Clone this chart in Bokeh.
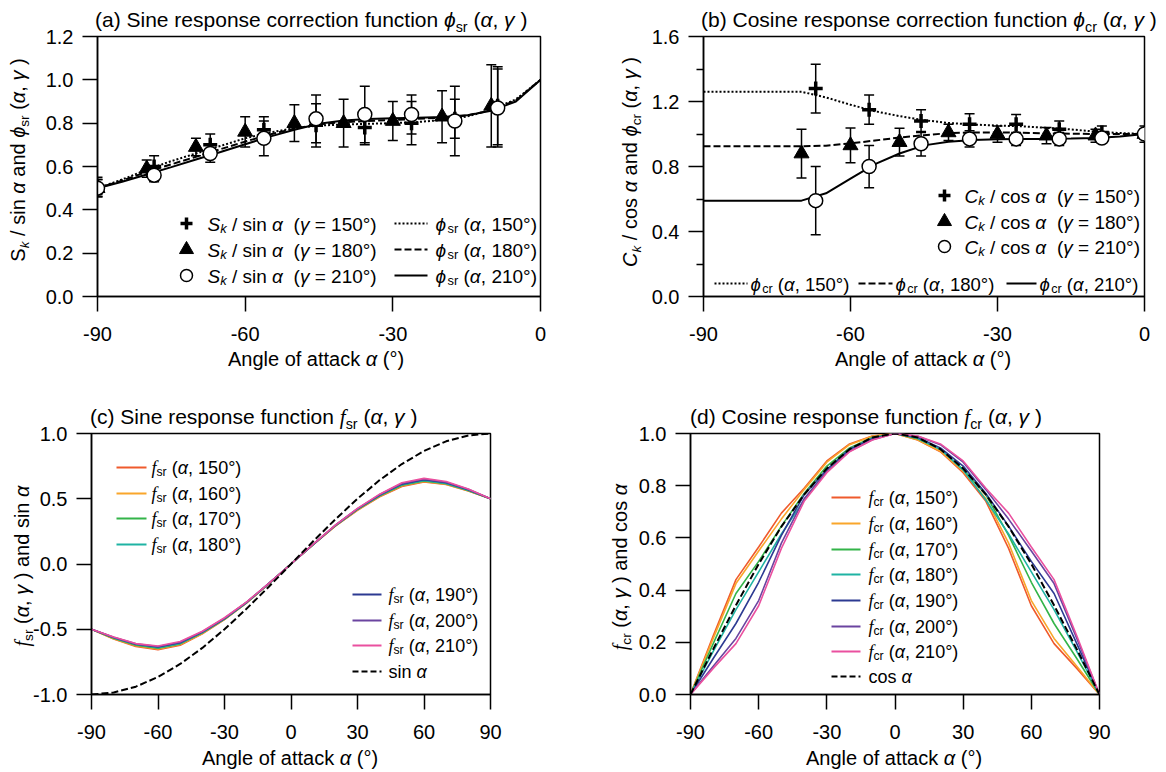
import numpy as np
from bokeh.plotting import figure
from bokeh.models import Range1d, FixedTicker, NumeralTickFormatter, Label, Div
from bokeh.layouts import column, row
from bokeh.embed import file_html
from bokeh.resources import INLINE

# ---------------- data ----------------
# (a) sine response correction
ALPHA_A_SYM = [-90, -78.5, -67.1, -56.2, -45.6, -35.7, -26.2, -17.4, -8.7]
ALPHA_A_180 = [-90, -80, -70, -60, -50, -40, -30, -20, -10]
SK150 = [0.51, 0.60, 0.70, 0.77, 0.79, 0.78, 0.80, 0.82, 0.88]
SK150_ERR = [0.04, 0.05, 0.05, 0.06, 0.10, 0.08, 0.10, 0.09, 0.18]
SK180 = [0.50, 0.59, 0.69, 0.76, 0.80, 0.80, 0.81, 0.83, 0.88]
SK180_ERR = [0.04, 0.04, 0.04, 0.07, 0.085, 0.11, 0.09, 0.12, 0.19]
SK210 = [0.50, 0.56, 0.66, 0.73, 0.82, 0.84, 0.84, 0.81, 0.87]
SK210_ERR = [0.04, 0.03, 0.04, 0.08, 0.11, 0.13, 0.09, 0.16, 0.18]
PHI_SR_ALPHA = [-90, -85, -80, -75, -70, -65, -60, -55, -50, -45, -40, -35, -30, -25, -20, -15, -10, -5, 0]
PHI_SR_150 = [0.50, 0.54, 0.585, 0.625, 0.66, 0.695, 0.73, 0.757, 0.777, 0.789, 0.794, 0.797, 0.80, 0.805, 0.815, 0.83, 0.862, 0.91, 1.00]
PHI_SR_180 = [0.50, 0.535, 0.575, 0.61, 0.645, 0.68, 0.715, 0.748, 0.775, 0.795, 0.805, 0.81, 0.815, 0.82, 0.825, 0.835, 0.86, 0.905, 1.00]
PHI_SR_210 = [0.50, 0.53, 0.563, 0.597, 0.632, 0.667, 0.703, 0.738, 0.77, 0.797, 0.812, 0.819, 0.823, 0.825, 0.828, 0.836, 0.857, 0.90, 1.00]

# (b) cosine response correction
ALPHA_B_SYM = [-67.1, -56.2, -45.6, -35.7, -26.2, -17.4, -8.7, 0]
ALPHA_B_180 = [-70, -60, -50, -40, -30, -20, -10, 0]
CK150 = [1.28, 1.15, 1.08, 1.06, 1.06, 1.03, 1.01, 1.00]
CK150_ERR = [0.15, 0.09, 0.07, 0.065, 0.06, 0.05, 0.04, 0.03]
CK180 = [0.88, 0.93, 0.95, 1.01, 1.00, 0.99, 0.99, 1.00]
CK180_ERR = [0.15, 0.107, 0.085, 0.05, 0.05, 0.05, 0.04, 0.03]
CK210 = [0.59, 0.80, 0.94, 0.97, 0.97, 0.97, 0.975, 1.00]
CK210_ERR = [0.21, 0.13, 0.075, 0.05, 0.04, 0.04, 0.03, 0.05]
PHI_CR_ALPHA = [-90, -70, -65, -60, -55, -50, -45, -40, -35, -30, -25, -20, -15, -10, -5, 0]
PHI_CR_150 = [1.26, 1.26, 1.225, 1.18, 1.14, 1.11, 1.085, 1.068, 1.058, 1.052, 1.047, 1.038, 1.028, 1.015, 1.006, 1.00]
PHI_CR_180 = [0.925, 0.925, 0.928, 0.942, 0.96, 0.978, 0.993, 1.005, 1.01, 1.01, 1.008, 1.004, 1.002, 1.00, 1.00, 1.00]
PHI_CR_210 = [0.59, 0.59, 0.635, 0.725, 0.815, 0.88, 0.93, 0.952, 0.963, 0.968, 0.97, 0.97, 0.972, 0.975, 0.985, 1.00]

# (c) sine response function
ALPHA_CD = [-90, -80, -70, -60, -50, -40, -30, -20, -10, 0, 10, 20, 30, 40, 50, 60, 70, 80, 90]
GAMMAS = [150, 160, 170, 180, 190, 200, 210]
FSR = {
    150: [-0.50, -0.575, -0.632, -0.656, -0.622, -0.535, -0.426, -0.298, -0.152, 0, 0.148, 0.29, 0.412, 0.515, 0.594, 0.628, 0.61, 0.56, 0.50],
    160: [-0.50, -0.572, -0.627, -0.651, -0.617, -0.532, -0.424, -0.297, -0.151, 0, 0.149, 0.292, 0.415, 0.518, 0.599, 0.632, 0.612, 0.562, 0.50],
    170: [-0.50, -0.569, -0.622, -0.646, -0.612, -0.528, -0.422, -0.296, -0.151, 0, 0.149, 0.293, 0.418, 0.522, 0.604, 0.636, 0.615, 0.564, 0.50],
    180: [-0.50, -0.566, -0.617, -0.641, -0.608, -0.525, -0.42, -0.295, -0.15, 0, 0.15, 0.295, 0.42, 0.525, 0.608, 0.641, 0.617, 0.566, 0.50],
    190: [-0.50, -0.564, -0.615, -0.636, -0.604, -0.522, -0.418, -0.293, -0.149, 0, 0.151, 0.296, 0.422, 0.528, 0.612, 0.646, 0.622, 0.569, 0.50],
    200: [-0.50, -0.562, -0.612, -0.632, -0.599, -0.518, -0.415, -0.292, -0.149, 0, 0.151, 0.297, 0.424, 0.532, 0.617, 0.651, 0.627, 0.572, 0.50],
    210: [-0.50, -0.56, -0.61, -0.628, -0.594, -0.515, -0.412, -0.29, -0.148, 0, 0.152, 0.298, 0.426, 0.535, 0.622, 0.656, 0.632, 0.575, 0.50],
}
SIN_VALUES = [-1.0, -0.985, -0.940, -0.866, -0.766, -0.643, -0.5, -0.342, -0.174, 0, 0.174, 0.342, 0.5, 0.643, 0.766, 0.866, 0.940, 0.985, 1.0]

# (d) cosine response function
FCR = {
    150: [0, 0.225, 0.44, 0.565, 0.695, 0.79, 0.895, 0.96, 0.99, 1.0, 0.975, 0.93, 0.85, 0.74, 0.56, 0.34, 0.195, 0.10, 0],
    160: [0, 0.215, 0.425, 0.55, 0.672, 0.785, 0.89, 0.957, 0.989, 1.0, 0.976, 0.932, 0.855, 0.75, 0.58, 0.36, 0.215, 0.108, 0],
    170: [0, 0.195, 0.387, 0.51, 0.645, 0.77, 0.875, 0.945, 0.985, 1.0, 0.98, 0.94, 0.862, 0.765, 0.61, 0.43, 0.272, 0.138, 0],
    180: [0, 0.165, 0.325, 0.47, 0.615, 0.745, 0.86, 0.94, 0.982, 1.0, 0.982, 0.94, 0.86, 0.745, 0.615, 0.47, 0.325, 0.165, 0],
    190: [0, 0.138, 0.272, 0.43, 0.61, 0.765, 0.862, 0.94, 0.98, 1.0, 0.985, 0.945, 0.875, 0.77, 0.645, 0.51, 0.387, 0.195, 0],
    200: [0, 0.108, 0.215, 0.36, 0.58, 0.75, 0.855, 0.932, 0.976, 1.0, 0.989, 0.957, 0.89, 0.785, 0.672, 0.55, 0.425, 0.215, 0],
    210: [0, 0.10, 0.195, 0.34, 0.56, 0.74, 0.85, 0.93, 0.975, 1.0, 0.99, 0.96, 0.895, 0.79, 0.695, 0.565, 0.44, 0.225, 0],
}
COS_VALUES = [0, 0.174, 0.342, 0.5, 0.643, 0.766, 0.866, 0.940, 0.985, 1.0, 0.985, 0.940, 0.866, 0.766, 0.643, 0.5, 0.342, 0.174, 0]

COLORS = {150: "#EF5A2C", 160: "#F9A62B", 170: "#33B449", 180: "#1FB3A3",
          190: "#2C3A92", 200: "#6B44A0", 210: "#EA509F"}

# ---------------- text helpers ----------------
FONT = "Liberation Sans"
SERIF = "Liberation Serif"
AW = {' ': .278, '(': .333, ')': .333, ',': .278, '-': .333, '.': .278, '/': .278, '=': .584,
      '°': .400, 'A': .667, 'C': .722, 'S': .667,
      'a': .556, 'b': .556, 'c': .5, 'd': .556, 'e': .556, 'f': .278, 'g': .556, 'h': .556,
      'i': .222, 'k': .5, 'l': .222, 'n': .556, 'o': .556, 'p': .556, 'r': .333, 's': .5,
      't': .278, 'u': .556, 'α': .578, 'γ': .5, 'ϕ': .63}


def tw(s, size):
    return sum(AW.get(c, 0.556) for c in s) * size


class Frame:
    def __init__(self, x0, x1, y0, y1, left, top, w, h):
        self.x0, self.x1, self.y0, self.y1 = x0, x1, y0, y1
        self.left, self.top, self.w, self.h = left, top, w, h

    def X(self, px):
        return self.x0 + (px - self.left) * (self.x1 - self.x0) / self.w

    def Y(self, py):
        return self.y1 - (py - self.top) * (self.y1 - self.y0) / self.h


def props(kind, size):
    sub = kind.startswith("s")
    fs = size * 0.68 if sub else size
    drop = size * 0.22 if sub else 0.0
    base = kind[1:] if sub else kind
    if base == "f":
        return SERIF, "italic", fs, drop
    if base == "i":
        return FONT, "italic", fs, drop
    return FONT, "normal", fs, drop


def rich(p, fr, sx, yc, segs, size):
    """Rich text (with subscripts) inside a plot frame, vertically centred on row yc."""
    sy = yc + 0.33 * size - 5
    pos = 0.0
    for text, kind in segs:
        font, style, fs, drop = props(kind, size)
        lead = tw(text[: len(text) - len(text.lstrip())], fs)
        t = text.strip()
        if t:
            px, py = sx + pos + lead, sy + drop
            p.add_layout(Label(x=fr.X(px), y=fr.Y(py), text=t, text_font=font,
                               text_font_style=style, text_font_size=f"{fs:.1f}px",
                               text_baseline="alphabetic", text_align="left",
                               text_color="black"))
        pos += tw(text, fs)


def html_rich(segs, size):
    out = []
    for text, kind in segs:
        font, style, fs, drop = props(kind, size)
        st = f"font-family:'{font}';font-style:{style};font-size:{fs:.1f}px;"
        if drop:
            st += f"vertical-align:-{drop:.1f}px;line-height:1;"
        out.append(f'<span style="{st}">{text}</span>')
    return "".join(out)


def hdiv(segs, size, width, height, pad_top, left=None, center=None, spacing=0.0):
    """Horizontal text block placed inside a fixed-size Div."""
    common = (f"white-space:pre;line-height:1;padding-top:{pad_top}px;color:black;"
              f"font-family:'{FONT}';font-size:{size}px;letter-spacing:{spacing}px;")
    if center is not None:
        inner = (f'<div style="width:400px;margin-left:{center - 200}px;text-align:center;{common}">'
                 f'{html_rich(segs, size)}</div>')
    else:
        inner = f'<div style="margin-left:{left}px;{common}">{html_rich(segs, size)}</div>'
    return Div(text=inner, width=width, height=height, margin=(0, 0, 0, 0),
               styles={"overflow": "visible"})


def vdiv(segs, size, width, height, cx, cy):
    """Rotated (bottom-to-top) text centred at (cx, cy) inside a fixed-size Div."""
    L = 360
    x0 = cx - size / 2
    y0 = cy + L / 2
    inner = (f'<div style="width:{L}px;height:{size}px;text-align:center;white-space:pre;'
             f'line-height:1;color:black;font-family:\'{FONT}\';font-size:{size}px;'
             f'transform-origin:0 0;transform:translate({x0}px,{y0}px) rotate(-90deg)">'
             f'{html_rich(segs, size)}</div>')
    return Div(text=inner, width=width, height=height, margin=(0, 0, 0, 0),
               styles={"overflow": "visible"})


def make_fig(fr, mbl, mbr, mbt, mbb, xticks, yticks, yminor, yfmt):
    p = figure(x_range=Range1d(fr.x0, fr.x1), y_range=Range1d(fr.y0, fr.y1),
               frame_width=fr.w, frame_height=fr.h,
               min_border_left=mbl, min_border_right=mbr,
               min_border_top=mbt, min_border_bottom=mbb,
               toolbar_location=None, output_backend="svg")
    p.grid.visible = False
    p.outline_line_color = "black"
    p.outline_line_width = 1.5
    p.background_fill_color = "white"
    p.border_fill_color = None
    p.xaxis.ticker = FixedTicker(ticks=xticks, minor_ticks=[])
    p.yaxis.ticker = FixedTicker(ticks=yticks, minor_ticks=yminor)
    p.xaxis.formatter = NumeralTickFormatter(format="0")
    p.yaxis.formatter = NumeralTickFormatter(format=yfmt)
    for ax in (p.xaxis, p.yaxis):
        ax.axis_line_width = 1.5
        ax.axis_line_color = "black"
        ax.major_tick_line_width = 1.5
        ax.major_tick_line_color = "black"
        ax.minor_tick_line_width = 1.5
        ax.minor_tick_line_color = "black"
        ax.major_tick_in = 0
        ax.minor_tick_in = 0
        ax.minor_tick_out = 7
        ax.major_label_text_font = FONT
        ax.major_label_text_font_size = "20px"
        ax.major_label_text_color = "black"
    p.xaxis.major_tick_out = 15
    p.yaxis.major_tick_out = 15
    p.xaxis.major_label_standoff = 15
    p.yaxis.major_label_standoff = 9
    return p


def errbars(p, fr, xs, vals, errs):
    xs = np.asarray(xs, float)
    v = np.asarray(vals, float)
    e = np.asarray(errs, float)
    lo, hi = v - e, v + e
    cw = 5 * (fr.x1 - fr.x0) / fr.w
    p.segment(xs, lo, xs, hi, line_color="black", line_width=1.5)
    p.segment(xs - cw, lo, xs + cw, lo, line_color="black", line_width=1.5)
    p.segment(xs - cw, hi, xs + cw, hi, line_color="black", line_width=1.5)


def markers(p, xs, ys, kind, size):
    if kind == "plus":
        p.scatter(xs, ys, marker="cross", size=size, line_color="black", line_width=3.5)
    elif kind == "tri":
        p.scatter(xs, ys, marker="triangle", size=size, fill_color="black", line_color="black", line_width=1)
    else:
        p.scatter(xs, ys, marker="circle", size=size, fill_color="white", line_color="black", line_width=1.5)


DOT, DASH, SOLID = "2 2", "7 3", "solid"
LEG = 19
AXL = 20
TIT = 21
TSP = 0.0
XLAB = [("Angle of attack ", "n"), ("α", "i"), (" (°)", "n")]

# ---------------- panel (a) ----------------
fa = Frame(-90, 0, 0, 1.2, 95, 36, 443, 260)
pa = make_fig(fa, 53, 82, 12, 53, [-90, -60, -30, 0], [0, 0.2, 0.4, 0.6, 0.8, 1.0, 1.2], [], "0.0")
pa.line(PHI_SR_ALPHA, PHI_SR_150, line_color="black", line_width=2, line_dash=DOT)
pa.line(PHI_SR_ALPHA, PHI_SR_180, line_color="black", line_width=2, line_dash=DASH)
pa.line(PHI_SR_ALPHA, PHI_SR_210, line_color="black", line_width=2)
errbars(pa, fa, ALPHA_A_SYM, SK150, SK150_ERR)
errbars(pa, fa, ALPHA_A_180, SK180, SK180_ERR)
errbars(pa, fa, ALPHA_A_SYM, SK210, SK210_ERR)
markers(pa, ALPHA_A_SYM, SK150, "plus", 14)
markers(pa, ALPHA_A_180, SK180, "tri", 15)
markers(pa, ALPHA_A_SYM, SK210, "circ", 14)
leg_rows_a = [223, 249, 275]
for yy, kind, gam in zip(leg_rows_a, ["plus", "tri", "circ"], ["150", "180", "210"]):
    markers(pa, [fa.X(184)], [fa.Y(yy)], kind, 12 if kind != "tri" else 14)
    rich(pa, fa, 205, yy, [("S", "i"), ("k", "si"), (" / sin ", "n"), ("α", "i"),
                           ("  (", "n"), ("γ", "i"), (f" = {gam}°)", "n")], LEG)
for yy, dash, gam in zip(leg_rows_a, [DOT, DASH, SOLID], ["150", "180", "210"]):
    pa.segment([fa.X(392)], [fa.Y(yy)], [fa.X(425)], [fa.Y(yy)], line_color="black", line_width=2, line_dash=dash)
    rich(pa, fa, 433, yy, [("ϕ", "i"), ("sr", "s"), (" (", "n"), ("α", "i"), (f", {gam}°)", "n")], LEG)

title_a = hdiv([("(a) Sine response correction function ", "n"), ("ϕ", "i"), ("sr", "s"),
                (" (", "n"), ("α", "i"), (", ", "n"), ("γ", "i"), (" )", "n")], TIT, 620, 24, 9,
               left=95, spacing=TSP)
ylab_a = vdiv([("S", "n"), ("k", "si"), (" / sin ", "n"), ("α", "i"), (" and ", "n"),
               ("ϕ", "i"), ("sr", "s"), (" (", "n"), ("α", "i"), (", ", "n"), ("γ", "i"), (" )", "n")],
              AXL, 42, 325, 18, 136)
xlab_a = hdiv(XLAB, AXL, 620, 31, 0, center=316)
col_a = column(title_a, row(ylab_a, pa, spacing=0), xlab_a, spacing=0)

# ---------------- panel (b) ----------------
fb = Frame(-90, 0, 0, 1.6, 701, 36, 441, 260)
pb = make_fig(fb, 56, 24, 12, 53, [-90, -60, -30, 0], [0, 0.4, 0.8, 1.2, 1.6], [0.2, 0.6, 1.0, 1.4], "0.0")
pb.line(PHI_CR_ALPHA, PHI_CR_150, line_color="black", line_width=2, line_dash=DOT)
pb.line(PHI_CR_ALPHA, PHI_CR_180, line_color="black", line_width=2, line_dash=DASH)
pb.line(PHI_CR_ALPHA, PHI_CR_210, line_color="black", line_width=2)
errbars(pb, fb, ALPHA_B_SYM, CK150, CK150_ERR)
errbars(pb, fb, ALPHA_B_180, CK180, CK180_ERR)
errbars(pb, fb, ALPHA_B_SYM, CK210, CK210_ERR)
markers(pb, ALPHA_B_SYM, CK150, "plus", 14)
markers(pb, ALPHA_B_180, CK180, "tri", 15)
markers(pb, ALPHA_B_SYM, CK210, "circ", 14)
leg_rows_b = [195, 221, 246]
for yy, kind, gam in zip(leg_rows_b, ["plus", "tri", "circ"], ["150", "180", "210"]):
    markers(pb, [fb.X(942)], [fb.Y(yy)], kind, 12 if kind != "tri" else 14)
    rich(pb, fb, 962, yy, [("C", "i"), ("k", "si"), (" / cos ", "n"), ("α", "i"),
                           ("  (", "n"), ("γ", "i"), (f" = {gam}°)", "n")], LEG)
for (xa, xb, xt), dash, gam in zip([(712, 745, 748), (856, 890, 893), (1004, 1034, 1037)],
                                   [DOT, DASH, SOLID], ["150", "180", "210"]):
    pb.segment([fb.X(xa)], [fb.Y(283)], [fb.X(xb)], [fb.Y(283)], line_color="black", line_width=2, line_dash=dash)
    rich(pb, fb, xt, 283, [("ϕ", "i"), ("cr", "s"), (" (", "n"), ("α", "i"), (f", {gam}°)", "n")], 18.5)

title_b = hdiv([("(b) Cosine response correction function ", "n"), ("ϕ", "i"), ("cr", "s"),
                (" (", "n"), ("α", "i"), (", ", "n"), ("γ", "i"), (" )", "n")], TIT, 546, 24, 9,
               left=79, spacing=TSP)
ylab_b = vdiv([("C", "i"), ("k", "si"), (" / cos ", "n"), ("α", "i"), (" and ", "n"),
               ("ϕ", "i"), ("cr", "s"), (" (", "n"), ("α", "i"), (", ", "n"), ("γ", "i"), (" )", "n")],
              AXL, 25, 325, 8, 138)
xlab_b = hdiv(XLAB, AXL, 546, 31, 0, center=301)
col_b = column(title_b, row(ylab_b, pb, spacing=0), xlab_b, spacing=0)

# ---------------- panel (c) ----------------
LEG2 = 18
fc = Frame(-90, 90, -1, 1, 90, 433, 399, 261)
pc = make_fig(fc, 60, 101, 12, 53, [-90, -60, -30, 0, 30, 60, 90], [-1, -0.5, 0, 0.5, 1], [], "0.0")
for g in GAMMAS:
    pc.line(ALPHA_CD, FSR[g], line_color=COLORS[g], line_width=1.6)
pc.line(ALPHA_CD, SIN_VALUES, line_color="black", line_width=2, line_dash=DASH)
c_pos = {150: (115, 145, 150, 467), 160: (115, 145, 150, 493), 170: (115, 145, 150, 518),
         180: (115, 145, 150, 544), 190: (351, 380, 387, 594), 200: (351, 380, 387, 620),
         210: (351, 380, 387, 645)}
for g in GAMMAS:
    xa, xb, xt, yy = c_pos[g]
    pc.segment([fc.X(xa)], [fc.Y(yy)], [fc.X(xb)], [fc.Y(yy)], line_color=COLORS[g], line_width=2)
    rich(pc, fc, xt, yy, [("f", "f"), ("sr", "s"), (" (", "n"), ("α", "i"), (f", {g}°)", "n")], LEG2)
pc.segment([fc.X(351)], [fc.Y(671)], [fc.X(380)], [fc.Y(671)], line_color="black", line_width=2, line_dash="6 3")
rich(pc, fc, 387, 671, [("sin ", "n"), ("α", "i")], LEG2)

title_c = hdiv([("(c) Sine response function ", "n"), ("f", "f"), ("sr", "s"),
                (" (", "n"), ("α", "i"), (", ", "n"), ("γ", "i"), (" )", "n")], TIT, 590, 41, 26,
               left=90, spacing=TSP)
ylab_c = vdiv([("f", "f"), ("sr", "s"), (" (", "n"), ("α", "i"), (", ", "n"), ("γ", "i"),
               (" ) and sin ", "n"), ("α", "i")], AXL, 30, 326, 22, 145)
xlab_c = hdiv(XLAB, AXL, 590, 25, 1, center=290)
col_c = column(title_c, row(ylab_c, pc, spacing=0), xlab_c, spacing=0)

# ---------------- panel (d) ----------------
fd = Frame(-90, 90, 0, 1, 689, 433, 409, 261)
pd_ = make_fig(fd, 61, 68, 12, 53, [-90, -60, -30, 0, 30, 60, 90], [0, 0.2, 0.4, 0.6, 0.8, 1.0], [], "0.0")
for g in GAMMAS:
    pd_.line(ALPHA_CD, FCR[g], line_color=COLORS[g], line_width=1.6)
pd_.line(ALPHA_CD, COS_VALUES, line_color="black", line_width=2, line_dash=DASH)
d_rows = [497, 523, 549, 574, 600, 626, 651]
for g, yy in zip(GAMMAS, d_rows):
    pd_.segment([fd.X(830)], [fd.Y(yy)], [fd.X(859)], [fd.Y(yy)], line_color=COLORS[g], line_width=2)
    rich(pd_, fd, 867, yy, [("f", "f"), ("cr", "s"), (" (", "n"), ("α", "i"), (f", {g}°)", "n")], LEG2)
pd_.segment([fd.X(830)], [fd.Y(676)], [fd.X(859)], [fd.Y(676)], line_color="black", line_width=2, line_dash="6 3")
rich(pd_, fd, 867, 676, [("cos ", "n"), ("α", "i")], LEG2)

title_d = hdiv([("(d) Cosine response function ", "n"), ("f", "f"), ("cr", "s"),
                (" (", "n"), ("α", "i"), (", ", "n"), ("γ", "i"), (" )", "n")], TIT, 576, 41, 26,
               left=99, spacing=TSP)
ylab_d = vdiv([("f", "f"), ("cr", "s"), (" (", "n"), ("α", "i"), (", ", "n"), ("γ", "i"),
               (" ) and cos ", "n"), ("α", "i")], AXL, 38, 326, 29, 146)
xlab_d = hdiv(XLAB, AXL, 576, 25, 1, center=303)
col_d = column(title_d, row(ylab_d, pd_, spacing=0), xlab_d, spacing=0)

layout = column(row(col_a, col_b, spacing=0), row(col_c, col_d, spacing=0), spacing=0)
open("out.html", "w").write(file_html(layout, INLINE))
